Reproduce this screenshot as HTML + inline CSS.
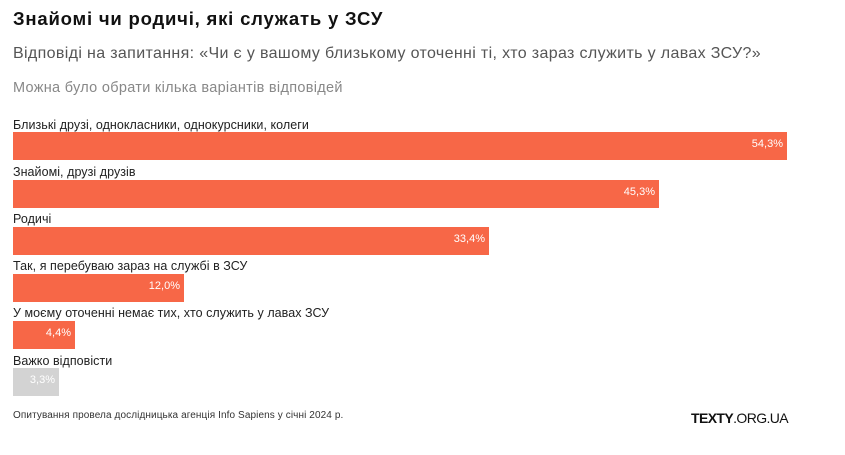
<!DOCTYPE html>
<html><head><meta charset="utf-8"><style>
body{margin:0;width:845px;height:455px;background:#fff;font-family:"Liberation Sans",sans-serif;position:relative;overflow:hidden}
.a{position:absolute;white-space:nowrap}
.bar{position:absolute;left:13px;height:28px;background:#f76747}
.v{position:absolute;right:4px;top:6px;color:#fff;font-size:11px}
.l{font-size:12.5px;letter-spacing:0.05px;color:#222;left:13px}
</style></head><body>
<div class="a" style="left:13px;top:8px;font-size:18.5px;letter-spacing:0.8px;font-weight:bold;color:#111">Знайомі чи родичі, які служать у ЗСУ</div>
<div class="a" style="left:13px;top:45px;font-size:16px;letter-spacing:0.35px;color:#555">Відповіді на запитання: «Чи є у вашому близькому оточенні ті, хто зараз служить у лавах ЗСУ?»</div>
<div class="a" style="left:13px;top:80px;font-size:14.5px;letter-spacing:0.3px;color:#888">Можна було обрати кілька варіантів відповідей</div>

<div class="a l" style="top:118px">Близькі друзі, однокласники, однокурсники, колеги</div>
<div class="bar" style="top:132px;width:774px"><span class="v">54,3%</span></div>
<div class="a l" style="top:165px">Знайомі, друзі друзів</div>
<div class="bar" style="top:180px;width:646px"><span class="v">45,3%</span></div>
<div class="a l" style="top:212px">Родичі</div>
<div class="bar" style="top:227px;width:476px"><span class="v">33,4%</span></div>
<div class="a l" style="top:259px">Так, я перебуваю зараз на службі в ЗСУ</div>
<div class="bar" style="top:274px;width:171px"><span class="v">12,0%</span></div>
<div class="a l" style="top:306px">У моєму оточенні немає тих, хто служить у лавах ЗСУ</div>
<div class="bar" style="top:321px;width:62px"><span class="v">4,4%</span></div>
<div class="a l" style="top:354px">Важко відповісти</div>
<div class="bar" style="top:368px;width:46px;background:#d3d3d3"><span class="v">3,3%</span></div>

<div class="a" style="left:13px;top:410px;font-size:10px;letter-spacing:0.1px;color:#333">Опитування провела дослідницька агенція Info Sapiens у січні 2024 р.</div>
<div class="a" style="left:691px;top:410px;font-size:14px;color:#111;letter-spacing:-0.6px"><b>TEXTY</b>.ORG.UA</div>
</body></html>
